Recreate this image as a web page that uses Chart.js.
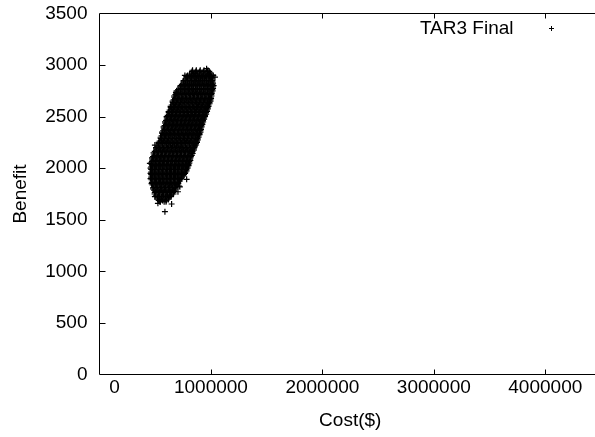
<!DOCTYPE html>
<html>
<head>
<meta charset="utf-8">
<title>TAR3 Final</title>
<script src="https://cdn.jsdelivr.net/npm/chart.js@4.4.1/dist/chart.umd.min.js"></script>
<style>
  html, body { margin: 0; padding: 0; background: #fff; overflow: hidden; }
  #wrap { width: 612px; height: 437px; }
</style>
</head>
<body>
<div id="wrap"><canvas id="tradeoff" width="612" height="437"></canvas></div>
<script>
// Benefit levels of the solution cloud, and the costs found at each level
const benefitLevels = [
  2950, 2938, 2925, 2913, 2900, 2888, 2875, 2863, 2850, 2838,
  2825, 2813, 2800, 2788, 2775, 2763, 2750, 2738, 2725, 2713,
  2700, 2688, 2675, 2663, 2650, 2638, 2625, 2613, 2600, 2588,
  2575, 2563, 2550, 2538, 2525, 2513, 2500, 2488, 2475, 2463,
  2450, 2438, 2425, 2413, 2400, 2388, 2375, 2363, 2350, 2338,
  2325, 2313, 2300, 2288, 2275, 2263, 2250, 2238, 2225, 2213,
  2200, 2188, 2175, 2163, 2150, 2138, 2125, 2113, 2100, 2088,
  2075, 2063, 2050, 2038, 2025, 2013, 2000, 1988, 1975, 1963,
  1950, 1938, 1925, 1913, 1900, 1888, 1875, 1863, 1850, 1838,
  1825, 1813, 1800, 1788, 1775, 1763, 1750, 1738, 1725, 1713,
  1700, 1688, 1675];

const costAtLevel = [
  [835000, 869000, 904000, 938000, 973000],
  [830000, 864000, 899000, 933000, 968000, 985000],
  [828000, 862000, 897000, 931000, 966000, 992000],
  [808000, 842000, 877000, 911000, 946000, 980000, 998000],
  [790000, 825000, 859000, 894000, 928000, 963000, 997000],
  [779000, 813000, 848000, 882000, 917000, 951000, 986000, 1004000],
  [788000, 822000, 857000, 891000, 926000, 960000, 995000, 1010000],
  [769000, 803000, 838000, 872000, 907000, 941000, 976000, 1005000],
  [754000, 788000, 823000, 857000, 892000, 926000, 961000, 995000, 1014000],
  [753000, 787000, 822000, 856000, 891000, 925000, 960000, 994000, 1012000],
  [756000, 790000, 825000, 859000, 894000, 928000, 963000, 997000, 1019000],
  [739000, 773000, 808000, 842000, 877000, 911000, 946000, 980000, 1014000],
  [727000, 761000, 796000, 830000, 865000, 899000, 934000, 968000, 1003000, 1024000],
  [724000, 758000, 793000, 827000, 862000, 896000, 931000, 965000, 1000000, 1016000],
  [725000, 759000, 794000, 828000, 863000, 897000, 932000, 966000, 1001000, 1019000],
  [706000, 740000, 775000, 809000, 844000, 878000, 913000, 947000, 982000, 1012000],
  [692000, 726000, 761000, 795000, 830000, 864000, 899000, 933000, 968000, 1002000, 1015000],
  [692000, 726000, 761000, 795000, 830000, 864000, 899000, 933000, 968000, 1005000],
  [697000, 731000, 766000, 800000, 835000, 869000, 904000, 938000, 973000, 1007000],
  [681000, 715000, 750000, 784000, 819000, 853000, 888000, 922000, 957000, 991000, 1003000],
  [669000, 703000, 738000, 772000, 807000, 841000, 876000, 910000, 945000, 979000, 1005000],
  [671000, 705000, 740000, 774000, 809000, 843000, 878000, 912000, 947000, 981000, 998000],
  [678000, 712000, 747000, 781000, 816000, 850000, 885000, 919000, 954000, 988000, 1001000],
  [665000, 699000, 734000, 768000, 803000, 837000, 872000, 906000, 941000, 975000, 994000],
  [656000, 690000, 725000, 759000, 794000, 828000, 863000, 897000, 932000, 966000, 996000],
  [657000, 691000, 726000, 760000, 795000, 829000, 864000, 898000, 933000, 967000, 987000],
  [663000, 697000, 732000, 766000, 801000, 835000, 870000, 904000, 939000, 973000, 988000],
  [648000, 682000, 717000, 751000, 786000, 820000, 855000, 889000, 924000, 958000, 978000],
  [638000, 672000, 707000, 741000, 776000, 810000, 845000, 879000, 914000, 948000, 978000],
  [639000, 673000, 708000, 742000, 777000, 811000, 846000, 880000, 915000, 949000, 970000],
  [645000, 679000, 714000, 748000, 783000, 817000, 852000, 886000, 921000, 955000, 972000],
  [630000, 664000, 699000, 733000, 768000, 802000, 837000, 871000, 906000, 940000, 964000],
  [620000, 654000, 689000, 723000, 758000, 792000, 827000, 861000, 896000, 930000, 965000],
  [621000, 655000, 690000, 724000, 759000, 793000, 828000, 862000, 897000, 931000, 956000],
  [627000, 661000, 696000, 730000, 765000, 799000, 834000, 868000, 903000, 937000, 957000],
  [612000, 646000, 681000, 715000, 750000, 784000, 819000, 853000, 888000, 922000, 947000],
  [602000, 636000, 671000, 705000, 740000, 774000, 809000, 843000, 878000, 912000, 947000],
  [604000, 638000, 673000, 707000, 742000, 776000, 811000, 845000, 880000, 914000, 938000],
  [611000, 645000, 680000, 714000, 749000, 783000, 818000, 852000, 887000, 921000, 939000],
  [597000, 631000, 666000, 700000, 735000, 769000, 804000, 838000, 873000, 907000, 929000],
  [588000, 622000, 657000, 691000, 726000, 760000, 795000, 829000, 864000, 898000, 930000],
  [590000, 624000, 659000, 693000, 728000, 762000, 797000, 831000, 866000, 900000, 921000],
  [597000, 631000, 666000, 700000, 735000, 769000, 804000, 838000, 873000, 907000, 923000],
  [584000, 618000, 653000, 687000, 722000, 756000, 791000, 825000, 860000, 894000, 914000],
  [575000, 609000, 644000, 678000, 713000, 747000, 782000, 816000, 851000, 885000, 916000],
  [577000, 611000, 646000, 680000, 715000, 749000, 784000, 818000, 853000, 887000, 908000],
  [584000, 618000, 653000, 687000, 722000, 756000, 791000, 825000, 860000, 894000, 911000],
  [570000, 604000, 639000, 673000, 708000, 742000, 777000, 811000, 846000, 880000, 904000],
  [561000, 595000, 630000, 664000, 699000, 733000, 768000, 802000, 837000, 871000, 906000],
  [563000, 597000, 632000, 666000, 701000, 735000, 770000, 804000, 839000, 873000, 897000],
  [570000, 604000, 639000, 673000, 708000, 742000, 777000, 811000, 846000, 880000, 898000],
  [557000, 591000, 626000, 660000, 695000, 729000, 764000, 798000, 833000, 867000, 888000],
  [548000, 582000, 617000, 651000, 686000, 720000, 755000, 789000, 824000, 858000, 889000],
  [549000, 583000, 618000, 652000, 687000, 721000, 756000, 790000, 825000, 859000, 880000],
  [555000, 589000, 624000, 658000, 693000, 727000, 762000, 796000, 831000, 865000, 882000],
  [540000, 574000, 609000, 643000, 678000, 712000, 747000, 781000, 816000, 850000, 874000],
  [530000, 564000, 599000, 633000, 668000, 702000, 737000, 771000, 806000, 840000, 875000],
  [530000, 564000, 599000, 633000, 668000, 702000, 737000, 771000, 806000, 840000, 866000],
  [534000, 568000, 603000, 637000, 672000, 706000, 741000, 775000, 810000, 844000, 867000],
  [518000, 552000, 587000, 621000, 656000, 690000, 725000, 759000, 794000, 828000, 857000],
  [507000, 541000, 576000, 610000, 645000, 679000, 714000, 748000, 783000, 817000, 852000],
  [507000, 541000, 576000, 610000, 645000, 679000, 714000, 748000, 783000, 817000, 847000],
  [512000, 546000, 581000, 615000, 650000, 684000, 719000, 753000, 788000, 822000, 846000],
  [496000, 530000, 565000, 599000, 634000, 668000, 703000, 737000, 772000, 806000, 835000],
  [485000, 519000, 554000, 588000, 623000, 657000, 692000, 726000, 761000, 795000, 830000],
  [487000, 521000, 556000, 590000, 625000, 659000, 694000, 728000, 763000, 797000, 826000],
  [494000, 528000, 563000, 597000, 632000, 666000, 701000, 735000, 770000, 804000, 828000],
  [480000, 514000, 549000, 583000, 618000, 652000, 687000, 721000, 756000, 790000, 820000],
  [471000, 505000, 540000, 574000, 609000, 643000, 678000, 712000, 747000, 781000, 816000],
  [474000, 508000, 543000, 577000, 612000, 646000, 681000, 715000, 750000, 784000, 813000],
  [482000, 516000, 551000, 585000, 620000, 654000, 689000, 723000, 758000, 792000, 815000],
  [470000, 504000, 539000, 573000, 608000, 642000, 677000, 711000, 746000, 780000, 806000],
  [462000, 496000, 531000, 565000, 600000, 634000, 669000, 703000, 738000, 772000, 806000],
  [467000, 501000, 536000, 570000, 605000, 639000, 674000, 708000, 743000, 777000, 798000],
  [476000, 510000, 545000, 579000, 614000, 648000, 683000, 717000, 752000, 786000, 799000],
  [465000, 499000, 534000, 568000, 603000, 637000, 672000, 706000, 741000, 775000, 789000],
  [458000, 492000, 527000, 561000, 596000, 630000, 665000, 699000, 734000, 768000, 790000],
  [464000, 498000, 533000, 567000, 602000, 636000, 671000, 705000, 740000, 774000, 780000],
  [474000, 508000, 543000, 577000, 612000, 646000, 681000, 715000, 750000, 781000],
  [464000, 498000, 533000, 567000, 602000, 636000, 671000, 705000, 740000, 771000],
  [458000, 492000, 527000, 561000, 596000, 630000, 665000, 699000, 734000, 768000],
  [464000, 498000, 533000, 567000, 602000, 636000, 671000, 705000, 740000, 758000],
  [474000, 508000, 543000, 577000, 612000, 646000, 681000, 715000, 750000],
  [464000, 498000, 533000, 567000, 602000, 636000, 671000, 705000, 740000],
  [458000, 492000, 527000, 561000, 596000, 630000, 665000, 699000, 734000],
  [466000, 500000, 535000, 569000, 604000, 638000, 673000, 707000, 724000],
  [478000, 512000, 547000, 581000, 616000, 650000, 685000, 719000],
  [470000, 504000, 539000, 573000, 608000, 642000, 677000, 706000],
  [467000, 501000, 536000, 570000, 605000, 639000, 674000, 707000],
  [476000, 510000, 545000, 579000, 614000, 648000, 683000, 695000],
  [489000, 523000, 558000, 592000, 627000, 661000, 694000],
  [482000, 516000, 551000, 585000, 620000, 654000, 682000],
  [480000, 514000, 549000, 583000, 618000, 652000, 682000],
  [489000, 523000, 558000, 592000, 627000, 661000, 671000],
  [503000, 537000, 572000, 606000, 641000, 672000],
  [496000, 530000, 565000, 599000, 634000, 662000],
  [494000, 528000, 563000, 597000, 632000, 664000],
  [506000, 540000, 575000, 609000, 644000],
  [523000, 557000, 592000, 626000, 641000],
  [520000, 554000, 589000, 622000],
  [521000, 555000, 590000, 619000],
  [531000, 565000, 600000],
  [546000, 580000, 597000]
];

// Stray solutions round the edge of the cloud
const strayCost = [587000, 647000, 632000, 721000, 704000, 542000, 524000, 782000, 827000, 856000,
  452000, 497000, 692000, 686000, 766000, 856000, 961000, 1021000, 1036000, 497000,
  715000, 632000, 836000, 901000, 542000];
const strayBenefit = [1579, 1653, 1740, 1820, 1772, 1675, 1660, 1892, 2143, 2224,
  2047, 2224, 2723, 2736, 2900, 2917, 2965, 2900, 2884, 1724,
  1827, 1772, 2143, 2369, 1692];

const costTicks = [0, 1000000, 2000000, 3000000, 4000000];
const benefitTicks = [0, 500, 1000, 1500, 2000, 2500, 3000, 3500];

const solutions = [];
benefitLevels.forEach((b, i) => {
  costAtLevel[i].forEach(c => solutions.push({ x: c, y: b }));
});
strayCost.forEach((c, i) => solutions.push({ x: c, y: strayBenefit[i] }));

const FONT = "'Liberation Sans', Arial, Helvetica, sans-serif";
Chart.defaults.font.family = FONT;
Chart.defaults.font.size = 19;
Chart.defaults.color = '#000';

// gnuplot style border with inward tics, x tic labels and the key
const gnuplotFrame = {
  id: 'gnuplotFrame',
  afterDatasetsDraw(chart) {
    const { ctx, chartArea: a, scales: { x, y } } = chart;
    ctx.save();
    ctx.strokeStyle = '#000';
    ctx.lineWidth = 1;
    ctx.beginPath();
    ctx.rect(a.left, a.top, a.right - a.left, a.bottom - a.top);
    y.ticks.forEach(t => {
      if (t.value <= y.min || t.value >= y.max) return;
      const py = Math.round(y.getPixelForValue(t.value)) + 0.5;
      ctx.moveTo(a.left, py); ctx.lineTo(a.left + 6, py);
      ctx.moveTo(a.right, py); ctx.lineTo(a.right - 6, py);
    });
    x.ticks.forEach(t => {
      if (t.value <= x.min || t.value >= x.max) return;
      const px = Math.round(x.getPixelForValue(t.value)) + 0.5;
      ctx.moveTo(px, a.bottom); ctx.lineTo(px, a.bottom - 5);
      ctx.moveTo(px, a.top); ctx.lineTo(px, a.top + 5);
    });
    ctx.stroke();

    ctx.fillStyle = '#000';
    ctx.font = '19px ' + FONT;
    ctx.textAlign = 'center';
    ctx.textBaseline = 'middle';
    x.ticks.forEach(t => {
      // the zero label sits clear of the corner
      const px = x.getPixelForValue(t.value) + (t.value === 0 ? 15 : 0);
      ctx.fillText(String(t.value), px, a.bottom + 13);
    });

    // key, top right
    const ds = chart.data.datasets[0];
    ctx.textAlign = 'right';
    ctx.fillText(ds.label, 513.5, a.top + 15);
    ctx.beginPath();
    Chart.helpers.drawPoint(ctx, { pointStyle: 'cross', radius: 2.5, borderWidth: 1, rotation: 0 }, 551.5, a.top + 15);
    ctx.restore();
  }
};

new Chart(document.getElementById('tradeoff').getContext('2d'), {
  type: 'scatter',
  data: {
    datasets: [{
      label: 'TAR3 Final',
      data: solutions,
      pointStyle: 'cross',
      pointRadius: 3,
      pointHoverRadius: 3,
      pointBorderWidth: 1.2,
      borderColor: '#000',
      backgroundColor: '#000'
    }]
  },
  options: {
    responsive: false,
    animation: false,
    devicePixelRatio: 1,
    events: [],
    layout: { padding: { left: 0, top: 13.5, right: 11, bottom: 0 } },
    scales: {
      x: {
        type: 'linear',
        min: 0,
        max: 4500000,
        afterBuildTicks: (scale) => { scale.ticks = costTicks.map(v => ({ value: v })); },
        afterFit: (scale) => {
          scale.height = 62.5;
          scale.paddingLeft = scale.paddingRight = 0;
        },
        grid: { display: false, drawTicks: false },
        border: { display: false },
        ticks: { display: false },
        title: { display: true, text: 'Cost($)', padding: { top: 0, bottom: 5 } }
      },
      y: {
        min: 0,
        max: 3500,
        afterBuildTicks: (scale) => { scale.ticks = benefitTicks.map(v => ({ value: v })); },
        afterFit: (scale) => {
          scale.width = 99.5;
          scale.paddingTop = scale.paddingBottom = 0;
        },
        grid: { display: false, drawTicks: false },
        border: { display: false },
        ticks: { padding: 12, callback: (v) => String(v) },
        title: { display: true, text: 'Benefit', padding: { top: 9, bottom: 0 } }
      }
    },
    plugins: {
      legend: { display: false },
      tooltip: { enabled: false }
    }
  },
  plugins: [gnuplotFrame]
});
</script>
</body>
</html>
